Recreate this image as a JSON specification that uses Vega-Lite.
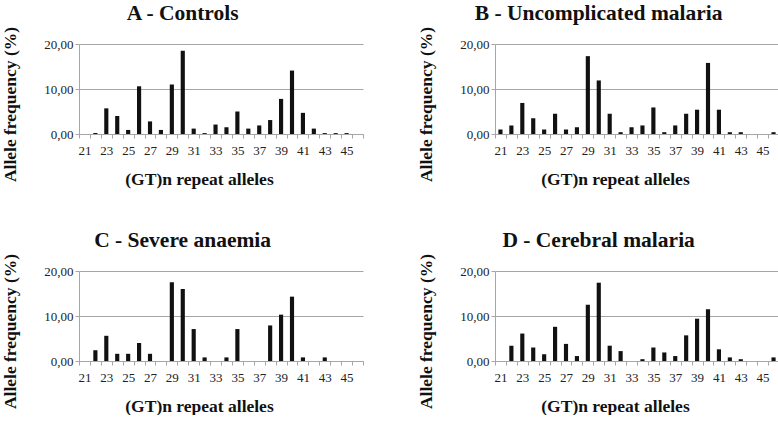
{
  "$schema": "https://vega.github.io/schema/vega-lite/v6.json",
  "background": "white",
  "padding": {"left": 1, "top": 2, "right": 0, "bottom": 0},
  "config": {
    "font": "'Liberation Serif', 'Times New Roman', serif",
    "view": {"stroke": null},
    "axis": {
      "labelFont": "'Liberation Serif', 'Times New Roman', serif",
      "titleFont": "'Liberation Serif', 'Times New Roman', serif",
      "labelFontSize": 13,
      "labelColor": "#222222",
      "titleFontSize": 17.5,
      "titleFontWeight": "bold",
      "titleColor": "#111111",
      "domainColor": "#a6a6a6",
      "tickColor": "#a6a6a6",
      "gridColor": "#a6a6a6",
      "gridWidth": 1
    },
    "title": {"font": "'Liberation Serif', 'Times New Roman', serif", "fontSize": 21.5, "fontWeight": "bold", "color": "#111111", "frame": "bounds", "anchor": "middle", "offset": 2},
    "bar": {"color": "#111111"}
  },
  "columns": 2,
  "spacing": {"row": 41, "column": 53},
  "data": {"values": [
    {"p": "A", "n": 22, "f": 0.2}, {"p": "A", "n": 23, "f": 5.7}, {"p": "A", "n": 24, "f": 4.0}, {"p": "A", "n": 25, "f": 0.9},
    {"p": "A", "n": 26, "f": 10.6}, {"p": "A", "n": 27, "f": 2.8}, {"p": "A", "n": 28, "f": 0.9}, {"p": "A", "n": 29, "f": 11.0},
    {"p": "A", "n": 30, "f": 18.5}, {"p": "A", "n": 31, "f": 1.2}, {"p": "A", "n": 32, "f": 0.2}, {"p": "A", "n": 33, "f": 2.1},
    {"p": "A", "n": 34, "f": 1.5}, {"p": "A", "n": 35, "f": 5.0}, {"p": "A", "n": 36, "f": 1.2}, {"p": "A", "n": 37, "f": 1.9},
    {"p": "A", "n": 38, "f": 3.1}, {"p": "A", "n": 39, "f": 7.8}, {"p": "A", "n": 40, "f": 14.1}, {"p": "A", "n": 41, "f": 4.7},
    {"p": "A", "n": 42, "f": 1.2}, {"p": "A", "n": 43, "f": 0.2}, {"p": "A", "n": 44, "f": 0.2}, {"p": "A", "n": 45, "f": 0.2},
    {"p": "B", "n": 21, "f": 1.0}, {"p": "B", "n": 22, "f": 1.9}, {"p": "B", "n": 23, "f": 6.9}, {"p": "B", "n": 24, "f": 3.5},
    {"p": "B", "n": 25, "f": 1.0}, {"p": "B", "n": 26, "f": 4.5}, {"p": "B", "n": 27, "f": 1.0}, {"p": "B", "n": 28, "f": 1.5},
    {"p": "B", "n": 29, "f": 17.3}, {"p": "B", "n": 30, "f": 11.9}, {"p": "B", "n": 31, "f": 4.5}, {"p": "B", "n": 32, "f": 0.4},
    {"p": "B", "n": 33, "f": 1.5}, {"p": "B", "n": 34, "f": 1.9}, {"p": "B", "n": 35, "f": 5.9}, {"p": "B", "n": 36, "f": 0.4},
    {"p": "B", "n": 37, "f": 1.9}, {"p": "B", "n": 38, "f": 4.5}, {"p": "B", "n": 39, "f": 5.4}, {"p": "B", "n": 40, "f": 15.8},
    {"p": "B", "n": 41, "f": 5.4}, {"p": "B", "n": 42, "f": 0.4}, {"p": "B", "n": 43, "f": 0.4}, {"p": "B", "n": 46, "f": 0.4},
    {"p": "C", "n": 22, "f": 2.4}, {"p": "C", "n": 23, "f": 5.6}, {"p": "C", "n": 24, "f": 1.6}, {"p": "C", "n": 25, "f": 1.6},
    {"p": "C", "n": 26, "f": 4.0}, {"p": "C", "n": 27, "f": 1.6}, {"p": "C", "n": 29, "f": 17.5}, {"p": "C", "n": 30, "f": 16.0},
    {"p": "C", "n": 31, "f": 7.1}, {"p": "C", "n": 32, "f": 0.8}, {"p": "C", "n": 34, "f": 0.8}, {"p": "C", "n": 35, "f": 7.1},
    {"p": "C", "n": 38, "f": 7.9}, {"p": "C", "n": 39, "f": 10.3}, {"p": "C", "n": 40, "f": 14.3}, {"p": "C", "n": 41, "f": 0.8},
    {"p": "C", "n": 43, "f": 0.8},
    {"p": "D", "n": 22, "f": 3.4}, {"p": "D", "n": 23, "f": 6.1}, {"p": "D", "n": 24, "f": 3.0}, {"p": "D", "n": 25, "f": 1.5},
    {"p": "D", "n": 26, "f": 7.6}, {"p": "D", "n": 27, "f": 3.8}, {"p": "D", "n": 28, "f": 1.1}, {"p": "D", "n": 29, "f": 12.5},
    {"p": "D", "n": 30, "f": 17.4}, {"p": "D", "n": 31, "f": 3.4}, {"p": "D", "n": 32, "f": 2.2}, {"p": "D", "n": 34, "f": 0.4},
    {"p": "D", "n": 35, "f": 3.0}, {"p": "D", "n": 36, "f": 1.9}, {"p": "D", "n": 37, "f": 1.1}, {"p": "D", "n": 38, "f": 5.7},
    {"p": "D", "n": 39, "f": 9.4}, {"p": "D", "n": 40, "f": 11.5}, {"p": "D", "n": 41, "f": 2.6}, {"p": "D", "n": 42, "f": 0.8},
    {"p": "D", "n": 43, "f": 0.4}, {"p": "D", "n": 46, "f": 0.8}
  ]},
  "concat": [
    {
      "title": "A - Controls",
      "width": 284, "height": 90,
      "transform": [{"filter": {"field": "p", "equal": "A"}}],
      "mark": {"type": "bar", "width": {"band": 0.38}},
      "encoding": {
        "x": {"field": "n", "type": "ordinal", "scale": {"domain": [21,22,23,24,25,26,27,28,29,30,31,32,33,34,35,36,37,38,39,40,41,42,43,44,45,46], "paddingInner": 0, "paddingOuter": 0},
              "axis": {"title": "(GT)n repeat alleles", "labelAngle": 0, "tickBand": "extent", "labelExpr": "datum.value % 2 == 1 ? datum.label : ''", "labelOverlap": false, "tickSize": 4, "labelPadding": 6, "titlePadding": 13, "titleX": 120, "titleAlign": "center", "grid": false}},
        "y": {"field": "f", "type": "quantitative", "scale": {"domain": [0, 20]},
              "axis": {"title": "Allele frequency (%)", "values": [0, 10, 20], "labelExpr": "replace(format(datum.value, '.2f'), '.', ',')", "tickSize": 4, "labelPadding": 2, "titlePadding": 24, "titleY": 60, "titleAlign": "center", "grid": true}}
      }
    },
    {
      "title": "B - Uncomplicated malaria",
      "width": 284, "height": 90,
      "transform": [{"filter": {"field": "p", "equal": "B"}}],
      "mark": {"type": "bar", "width": {"band": 0.38}},
      "encoding": {
        "x": {"field": "n", "type": "ordinal", "scale": {"domain": [21,22,23,24,25,26,27,28,29,30,31,32,33,34,35,36,37,38,39,40,41,42,43,44,45,46], "paddingInner": 0, "paddingOuter": 0},
              "axis": {"title": "(GT)n repeat alleles", "labelAngle": 0, "tickBand": "extent", "labelExpr": "datum.value % 2 == 1 ? datum.label : ''", "labelOverlap": false, "tickSize": 4, "labelPadding": 6, "titlePadding": 13, "titleX": 120, "titleAlign": "center", "grid": false}},
        "y": {"field": "f", "type": "quantitative", "scale": {"domain": [0, 20]},
              "axis": {"title": "Allele frequency (%)", "values": [0, 10, 20], "labelExpr": "replace(format(datum.value, '.2f'), '.', ',')", "tickSize": 4, "labelPadding": 2, "titlePadding": 24, "titleY": 60, "titleAlign": "center", "grid": true}}
      }
    },
    {
      "title": "C - Severe anaemia",
      "width": 284, "height": 90,
      "transform": [{"filter": {"field": "p", "equal": "C"}}],
      "mark": {"type": "bar", "width": {"band": 0.38}},
      "encoding": {
        "x": {"field": "n", "type": "ordinal", "scale": {"domain": [21,22,23,24,25,26,27,28,29,30,31,32,33,34,35,36,37,38,39,40,41,42,43,44,45,46], "paddingInner": 0, "paddingOuter": 0},
              "axis": {"title": "(GT)n repeat alleles", "labelAngle": 0, "tickBand": "extent", "labelExpr": "datum.value % 2 == 1 ? datum.label : ''", "labelOverlap": false, "tickSize": 4, "labelPadding": 6, "titlePadding": 13, "titleX": 120, "titleAlign": "center", "grid": false}},
        "y": {"field": "f", "type": "quantitative", "scale": {"domain": [0, 20]},
              "axis": {"title": "Allele frequency (%)", "values": [0, 10, 20], "labelExpr": "replace(format(datum.value, '.2f'), '.', ',')", "tickSize": 4, "labelPadding": 2, "titlePadding": 24, "titleY": 60, "titleAlign": "center", "grid": true}}
      }
    },
    {
      "title": "D - Cerebral malaria",
      "width": 284, "height": 90,
      "transform": [{"filter": {"field": "p", "equal": "D"}}],
      "mark": {"type": "bar", "width": {"band": 0.38}},
      "encoding": {
        "x": {"field": "n", "type": "ordinal", "scale": {"domain": [21,22,23,24,25,26,27,28,29,30,31,32,33,34,35,36,37,38,39,40,41,42,43,44,45,46], "paddingInner": 0, "paddingOuter": 0},
              "axis": {"title": "(GT)n repeat alleles", "labelAngle": 0, "tickBand": "extent", "labelExpr": "datum.value % 2 == 1 ? datum.label : ''", "labelOverlap": false, "tickSize": 4, "labelPadding": 6, "titlePadding": 13, "titleX": 120, "titleAlign": "center", "grid": false}},
        "y": {"field": "f", "type": "quantitative", "scale": {"domain": [0, 20]},
              "axis": {"title": "Allele frequency (%)", "values": [0, 10, 20], "labelExpr": "replace(format(datum.value, '.2f'), '.', ',')", "tickSize": 4, "labelPadding": 2, "titlePadding": 24, "titleY": 60, "titleAlign": "center", "grid": true}}
      }
    }
  ]
}
